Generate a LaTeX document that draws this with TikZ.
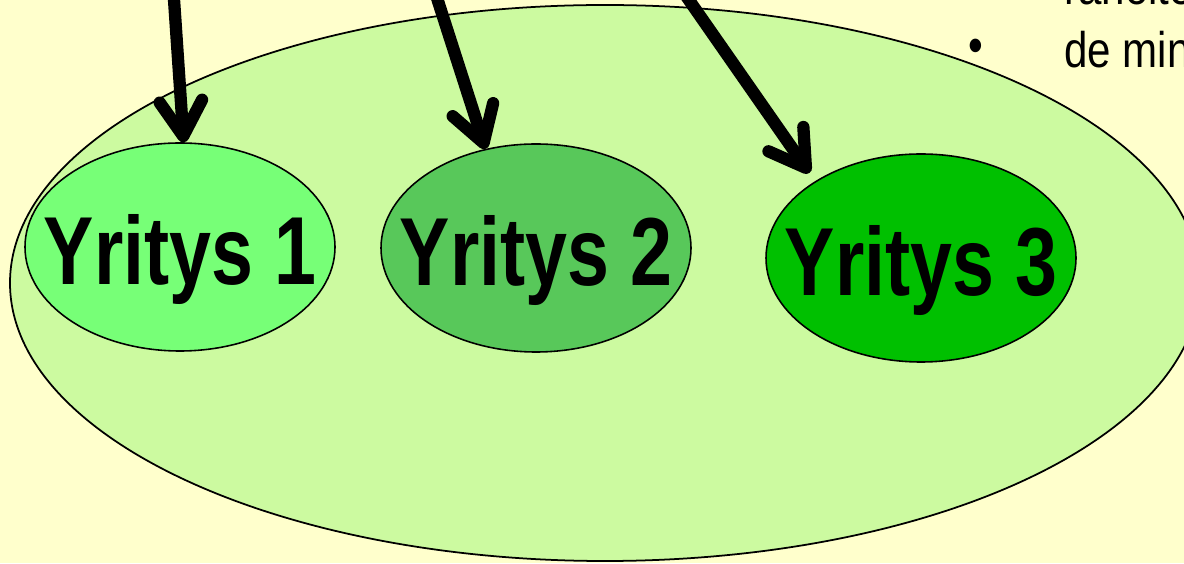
\documentclass[tikz,border=0pt]{standalone}
\usepackage{fontspec}
\usepackage{tikz}
\usetikzlibrary{shapes.geometric, arrows.meta}
\newfontfamily\narrowsf{Liberation Sans}[FakeStretch=0.84]
\newfontfamily\narrowbf{Liberation Sans Bold}[FakeStretch=0.78]

\definecolor{slideyellow}{RGB}{255,255,204}
\definecolor{zonegreen}{RGB}{204,250,160}
\definecolor{firmone}{RGB}{119,255,119}
\definecolor{firmtwo}{RGB}{88,200,90}
\definecolor{firmthree}{RGB}{0,192,0}

\begin{document}
\begin{tikzpicture}[
    firm/.style={ellipse, draw=black, line width=0.9pt, inner sep=0pt,
        minimum width=6.2cm, minimum height=4.16cm},
    firmtext/.style={inner sep=0pt, font=\narrowbf\fontsize{55}{60}\selectfont,
        text height=43pt, text depth=0pt},
    pointer/.style={line width=7pt, -{Straight Barb[length=0.7cm, width=0.85cm, round]}},
    bullettext/.style={inner sep=0pt, font=\narrowsf\fontsize{28.5}{32}\selectfont}
  ]
    \useasboundingbox (0, 0) rectangle (23.68, 11.26);
    \clip (0, 0) rectangle (23.68, 11.26);
    \fill[slideyellow] (0, 0) rectangle (23.68, 11.26);

    % The common zone
    \node[ellipse, draw=black, line width=1pt, fill=zonegreen, inner sep=0pt,
        minimum width=23.8cm, minimum height=11.12cm] (zone) at (12.1, 5.6) {};

    % Firms
    \node[firm, fill=firmone, label={[firmtext]center:Yritys 1}] (y1) at (3.60, 6.32) {};
    \node[firm, fill=firmtwo, label={[firmtext]center:Yritys 2}] (y2) at (10.72, 6.30) {};
    \node[firm, fill=firmthree, label={[firmtext]center:Yritys 3}] (y3) at (18.42, 6.10) {};

    % Bullet text, cut by the edge
    \node[bullettext, anchor=base west] (line1) at (21.28, 11.16) {rahoite};
    \node[bullettext, anchor=base west] (line2) at (21.28, 9.90) {de min};
    \node[bullettext] (dot) at (19.52, 10.24) {•};

    % Arrows from above
    \coordinate (from1) at (3.44, 11.86);
    \coordinate (from2) at (8.56, 11.86);
    \coordinate (from3) at (13.36, 11.86);
    \draw[pointer] (from1) -- (y1.88);
    \draw[pointer] (from2) -- (y2.117);
    \draw[pointer, shorten >=0.2cm] (from3) -- (y3.144);
\end{tikzpicture}
\end{document}
